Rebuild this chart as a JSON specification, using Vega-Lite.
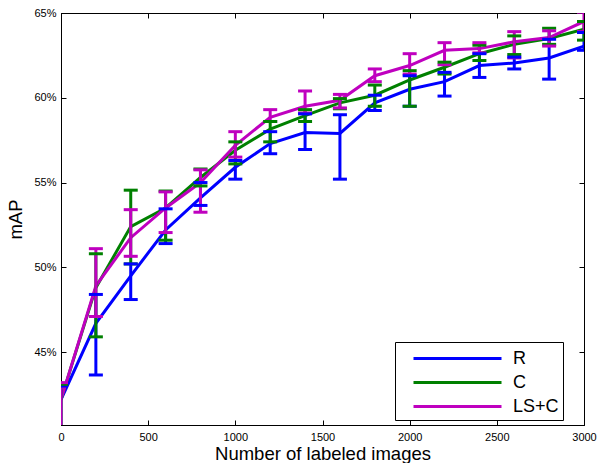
{
  "$schema": "https://vega.github.io/schema/vega-lite/v6.json",
  "width": 523,
  "height": 412,
  "autosize": {"type": "none"},
  "padding": {"left": 61, "top": 13, "right": 14, "bottom": 38},
  "background": "white",
  "data": {"values": [
    {"n": 0, "method": "R", "map": 42.2, "lo": 40.0, "hi": 43.0},
    {"n": 200, "method": "R", "map": 46.7, "lo": 43.65, "hi": 48.4},
    {"n": 400, "method": "R", "map": 49.5, "lo": 48.1, "hi": 50.2},
    {"n": 600, "method": "R", "map": 52.2, "lo": 51.4, "hi": 53.45},
    {"n": 800, "method": "R", "map": 54.1, "lo": 53.65, "hi": 55.0},
    {"n": 1000, "method": "R", "map": 55.9, "lo": 55.2, "hi": 56.3},
    {"n": 1200, "method": "R", "map": 57.3, "lo": 56.7, "hi": 58.0},
    {"n": 1400, "method": "R", "map": 57.95, "lo": 56.95, "hi": 59.05},
    {"n": 1600, "method": "R", "map": 57.9, "lo": 55.2, "hi": 59.0},
    {"n": 1800, "method": "R", "map": 59.7, "lo": 59.25, "hi": 60.15},
    {"n": 2000, "method": "R", "map": 60.5, "lo": 59.5, "hi": 61.3},
    {"n": 2200, "method": "R", "map": 60.95, "lo": 60.1, "hi": 61.5},
    {"n": 2400, "method": "R", "map": 61.9, "lo": 61.2, "hi": 62.6},
    {"n": 2600, "method": "R", "map": 62.05, "lo": 61.7, "hi": 62.4},
    {"n": 2800, "method": "R", "map": 62.35, "lo": 61.1, "hi": 63.45},
    {"n": 3000, "method": "R", "map": 63.05, "lo": 62.8, "hi": 63.85},
    {"n": 0, "method": "C", "map": 42.2, "lo": 40.0, "hi": 43.1},
    {"n": 200, "method": "C", "map": 48.8, "lo": 45.9, "hi": 50.8},
    {"n": 400, "method": "C", "map": 52.4, "lo": 50.2, "hi": 54.55},
    {"n": 600, "method": "C", "map": 53.5, "lo": 51.6, "hi": 54.5},
    {"n": 800, "method": "C", "map": 55.3, "lo": 54.8, "hi": 55.8},
    {"n": 1000, "method": "C", "map": 56.9, "lo": 56.1, "hi": 57.4},
    {"n": 1200, "method": "C", "map": 58.15, "lo": 57.4, "hi": 58.6},
    {"n": 1400, "method": "C", "map": 58.95, "lo": 58.6, "hi": 59.3},
    {"n": 1600, "method": "C", "map": 59.7, "lo": 59.35, "hi": 59.95},
    {"n": 1800, "method": "C", "map": 60.15, "lo": 59.5, "hi": 60.75},
    {"n": 2000, "method": "C", "map": 61.05, "lo": 59.5, "hi": 61.6},
    {"n": 2200, "method": "C", "map": 61.8, "lo": 61.4, "hi": 62.1},
    {"n": 2400, "method": "C", "map": 62.6, "lo": 62.2, "hi": 63.1},
    {"n": 2600, "method": "C", "map": 63.15, "lo": 62.55, "hi": 63.65},
    {"n": 2800, "method": "C", "map": 63.5, "lo": 63.15, "hi": 64.1},
    {"n": 3000, "method": "C", "map": 64.05, "lo": 63.4, "hi": 64.5},
    {"n": 0, "method": "LS+C", "map": 42.2, "lo": 40.0, "hi": 43.2},
    {"n": 200, "method": "LS+C", "map": 48.9, "lo": 47.1, "hi": 51.1},
    {"n": 400, "method": "LS+C", "map": 51.75, "lo": 50.65, "hi": 53.4},
    {"n": 600, "method": "LS+C", "map": 53.5, "lo": 52.05, "hi": 54.45},
    {"n": 800, "method": "LS+C", "map": 55.0, "lo": 53.25, "hi": 55.75},
    {"n": 1000, "method": "LS+C", "map": 57.2, "lo": 56.5, "hi": 58.0},
    {"n": 1200, "method": "LS+C", "map": 58.85, "lo": 58.6, "hi": 59.3},
    {"n": 1400, "method": "LS+C", "map": 59.5, "lo": 59.1, "hi": 60.4},
    {"n": 1600, "method": "LS+C", "map": 59.85, "lo": 59.4, "hi": 60.2},
    {"n": 1800, "method": "LS+C", "map": 61.3, "lo": 60.95, "hi": 61.7},
    {"n": 2000, "method": "LS+C", "map": 61.9, "lo": 61.4, "hi": 62.6},
    {"n": 2200, "method": "LS+C", "map": 62.8, "lo": 61.95, "hi": 63.25},
    {"n": 2400, "method": "LS+C", "map": 62.9, "lo": 62.65, "hi": 63.25},
    {"n": 2600, "method": "LS+C", "map": 63.3, "lo": 62.35, "hi": 63.9},
    {"n": 2800, "method": "LS+C", "map": 63.55, "lo": 63.05, "hi": 63.95},
    {"n": 3000, "method": "LS+C", "map": 64.5, "lo": 63.9, "hi": 65.05}
  ]},
  "layer": [
    {
      "mark": {"type": "line", "strokeWidth": 3, "clip": true},
      "encoding": {
        "x": {"field": "n", "type": "quantitative", "scale": {"domain": [0, 3000], "nice": false},
              "axis": {"orient": "bottom", "values": [0, 500, 1000, 1500, 2000, 2500, 3000], "format": "d", "labelFlush": false, "tickSize": -5, "labelPadding": 11, "labelFontSize": 11, "title": "Number of labeled images", "titleFontSize": 18.5, "titleFontWeight": "normal", "titlePadding": 2}},
        "y": {"field": "map", "type": "quantitative", "scale": {"domain": [40.7, 65], "nice": false, "zero": false},
              "axis": {"orient": "left", "values": [45, 50, 55, 60, 65], "labelExpr": "datum.value + '%'", "labelFlush": false, "tickSize": -5, "labelPadding": 10, "labelFontSize": 11, "title": "mAP", "titleFontSize": 18.5, "titleFontWeight": "normal", "titlePadding": 8}},
        "color": {"field": "method", "type": "nominal",
                  "scale": {"domain": ["R", "C", "LS+C"], "range": ["#0000ff", "#008000", "#bf00bf"]},
                  "legend": {"orient": "none", "legendX": 334, "legendY": 329, "title": null, "padding": 4,
                             "symbolType": "M-4,0H4", "symbolSize": 484, "symbolStrokeWidth": 3, "symbolOffset": 46,
                             "labelOffset": 43, "rowPadding": 2, "labelFontSize": 18, "labelFont": "Liberation Sans",
                             "labelColor": "black", "labelExpr": "datum.label + '    '", "strokeColor": "black", "fillColor": "white"}}
      }
    },
    {
      "mark": {"type": "rule", "strokeWidth": 3, "clip": true},
      "encoding": {
        "x": {"field": "n", "type": "quantitative",
              "axis": {"orient": "top", "values": [0, 500, 1000, 1500, 2000, 2500, 3000], "labels": false, "tickSize": -5, "title": null}},
        "y": {"field": "lo", "type": "quantitative",
              "axis": {"orient": "right", "values": [45, 50, 55, 60, 65], "labels": false, "tickSize": -5, "title": null}},
        "y2": {"field": "hi"},
        "color": {"field": "method", "type": "nominal", "legend": null}
      }
    },
    {
      "mark": {"type": "tick", "orient": "horizontal", "size": 14, "thickness": 3, "opacity": 1, "clip": true},
      "encoding": {
        "x": {"field": "n", "type": "quantitative", "axis": null},
        "y": {"field": "lo", "type": "quantitative", "axis": null},
        "color": {"field": "method", "type": "nominal", "legend": null}
      }
    },
    {
      "mark": {"type": "tick", "orient": "horizontal", "size": 14, "thickness": 3, "opacity": 1, "clip": true},
      "encoding": {
        "x": {"field": "n", "type": "quantitative", "axis": null},
        "y": {"field": "hi", "type": "quantitative", "axis": null},
        "color": {"field": "method", "type": "nominal", "legend": null}
      }
    }
  ],
  "resolve": {"axis": {"x": "independent", "y": "independent"}},
  "config": {
    "view": {"stroke": "black", "strokeWidth": 1},
    "axis": {"domainColor": "black", "domainWidth": 1, "tickColor": "black", "tickWidth": 1, "labelColor": "black", "titleColor": "black", "labelFont": "Liberation Sans", "titleFont": "Liberation Sans", "grid": false},
    "legend": {"labelFont": "Liberation Sans"}
  }
}
